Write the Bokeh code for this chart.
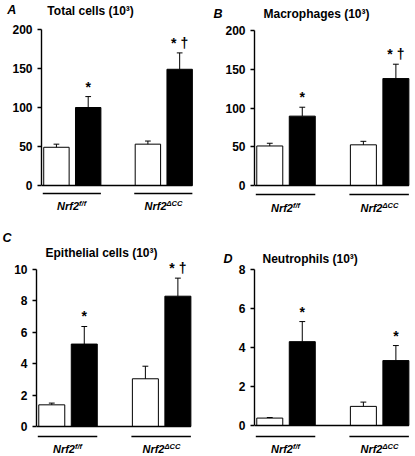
from bokeh.plotting import figure
from bokeh.layouts import column, row
from bokeh.models import Range1d, FixedTicker, Label, ColumnDataSource
from bokeh.core.properties import value
from bokeh.embed import file_html
from bokeh.resources import INLINE

# ---------------- data ----------------
panel_letters = ["A", "B", "C", "D"]
panel_titles = ["Total cells (10³)", "Macrophages (10³)",
                "Epithelial cells (10³)", "Neutrophils (10³)"]
genotype_names = ["Nrf2", "Nrf2"]
genotype_sups = ["f/f", "ΔCC"]
bar_colors = ["white", "black"]          # open bar / filled bar within each genotype

# order of bars: Nrf2f/f open, Nrf2f/f filled, Nrf2ΔCC open, Nrf2ΔCC filled
total_mean = [49, 100, 53, 149]
total_sem = [4, 14, 4, 21]
macro_mean = [51, 89.5, 52.5, 138]
macro_sem = [3.5, 11.5, 4.5, 18.5]
epi_mean = [1.38, 5.25, 3.04, 8.3]
epi_sem = [0.11, 1.12, 0.8, 1.15]
neut_mean = [0.38, 4.3, 0.98, 3.33]
neut_sem = [0.03, 1.03, 0.22, 0.77]

total_marks = ["", "*", "", "* †"]
macro_marks = ["", "*", "", "* †"]
epi_marks = ["", "*", "", "* †"]
neut_marks = ["", "*", "", "*"]

total_ticks = [0, 50, 100, 150, 200]
macro_ticks = [0, 50, 100, 150, 200]
epi_ticks = [0, 2, 4, 6, 8, 10]
neut_ticks = [0, 2, 4, 6, 8]

# ---------------- layout / style ----------------
FONT = "Liberation Sans"
FONT_V = value(FONT)
H = 228
UPX = 32.5          # pixels per bar slot
GROUP_STEP = 2.88   # slots between genotype groups
BAR_W = 0.8
X0 = -0.47


def make_panel(letter, title, means, sems, marks, ticks, lay):
    width, left = lay["width"], lay["left"]
    zero_px, top_px = lay["zero"], lay["top"]
    ymax = ticks[-1]
    ppu = (zero_px - top_px) / ymax
    y_start = -(H - zero_px) / ppu
    y_end = zero_px / ppu
    x_end = X0 + (width - left) / UPX

    def ydata(px):
        return (zero_px - px) / ppu

    p = figure(width=width, height=H, x_range=Range1d(X0, x_end),
               y_range=Range1d(y_start, y_end), x_axis_location=None,
               y_axis_location="left", toolbar_location=None,
               output_backend="svg", min_border_left=left, min_border_right=0,
               min_border_top=0, min_border_bottom=0,
               outline_line_color=None, background_fill_color="white",
               border_fill_color="white")
    p.grid.visible = False

    ax = p.yaxis[0]
    ax.ticker = FixedTicker(ticks=ticks)
    ax.bounds = (0, ymax)
    ax.axis_line_width = 1.4
    ax.axis_line_color = "black"
    ax.major_tick_line_width = 1.4
    ax.major_tick_out = 4
    ax.major_tick_in = 0
    ax.minor_tick_out = 0
    ax.minor_tick_in = 0
    ax.major_label_standoff = 5
    ax.major_label_text_font = FONT
    ax.major_label_text_font_style = "bold"
    ax.major_label_text_font_size = "12px"
    ax.major_label_text_color = "black"

    xs = [(i // 2) * GROUP_STEP + (i % 2) for i in range(len(means))]
    tops = [m + s for m, s in zip(means, sems)]
    src = ColumnDataSource(dict(
        x=xs, top=means, etop=tops,
        color=[bar_colors[i % 2] for i in range(len(means))],
        cx0=[x - 0.09 for x in xs], cx1=[x + 0.09 for x in xs],
        mark=marks, my=[t + 10 / ppu for t in tops]))

    p.vbar(x="x", top="top", bottom=0, width=BAR_W, fill_color="color",
           line_color="black", line_width=1, source=src)
    p.segment(x0="x", y0="top", x1="x", y1="etop", line_color="black",
              line_width=1, source=src)
    p.segment(x0="cx0", y0="etop", x1="cx1", y1="etop", line_color="black",
              line_width=1, source=src)
    p.text(x="x", y="my", text="mark", source=src, text_align="center",
           text_baseline="middle", text_font=FONT_V, text_font_style="bold",
           text_font_size="14px", text_color="black")

    # baseline (x axis line)
    p.segment(x0=[X0], y0=[0], x1=[xs[-1] + BAR_W / 2], y1=[0],
              line_color="black", line_width=1.4)

    # genotype underlines and labels
    ul_y = ydata(lay["ul"])
    lab_y = ydata(lay["lab"])
    sup_y = ydata(lay["lab"] - 2.5)
    sup_w = [7.1, 15.4]
    gx0, gx1, jx = [], [], []
    for g in range(2):
        a = xs[2 * g] - BAR_W / 2 - 0.03
        b = xs[2 * g + 1] + BAR_W / 2
        gx0.append(a)
        gx1.append(b)
        c = (a + b) / 2
        jx.append(c + (22 - sup_w[g]) / 2 / UPX)
    p.segment(x0=gx0, y0=[ul_y] * 2, x1=gx1, y1=[ul_y] * 2,
              line_color="black", line_width=1.4)
    p.text(x=jx, y=[lab_y] * 2, text=genotype_names, text_align="right",
           text_baseline="middle", text_font=FONT_V,
           text_font_style="bold italic", text_font_size="11px",
           text_color="black")
    p.text(x=jx, y=[sup_y] * 2, text=genotype_sups, text_align="left",
           text_baseline="middle", text_font=FONT_V,
           text_font_style="bold italic", text_font_size="7.5px",
           text_color="black")

    # title
    p.text(x=[X0 + lay["tdx"] / UPX], y=[ydata(lay["ty"])], text=[title],
           text_align="left", text_baseline="middle", text_font=FONT_V,
           text_font_style="bold", text_font_size="12px", text_color="black")

    # panel letter, placed in the left side panel
    p.add_layout(Label(x=X0 - (left - lay["lx"]) / UPX, y=ydata(lay["ly"]),
                       text=letter, text_align="left", text_baseline="middle",
                       text_font=FONT, text_font_style="bold italic",
                       text_font_size="12.5px", text_color="black"), "left")
    return p


layA = dict(width=213, left=37, zero=185, top=29, ty=10, tdx=6, lx=2, ly=9,
            ul=193, lab=205)
layB = dict(width=202, left=41, zero=185, top=30, ty=13, tdx=9, lx=0, ly=13,
            ul=194, lab=207)
layC = dict(width=213, left=36, zero=198, top=41, ty=24, tdx=9, lx=2, ly=9,
            ul=208, lab=220)
layD = dict(width=202, left=41, zero=197, top=41, ty=30, tdx=8, lx=10, ly=30,
            ul=208, lab=220)

pA = make_panel(panel_letters[0], panel_titles[0], total_mean, total_sem,
                total_marks, total_ticks, layA)
pB = make_panel(panel_letters[1], panel_titles[1], macro_mean, macro_sem,
                macro_marks, macro_ticks, layB)
pC = make_panel(panel_letters[2], panel_titles[2], epi_mean, epi_sem,
                epi_marks, epi_ticks, layC)
pD = make_panel(panel_letters[3], panel_titles[3], neut_mean, neut_sem,
                neut_marks, neut_ticks, layD)

layout = column(row(pA, pB), row(pC, pD))
open("out.html", "w").write(file_html(layout, INLINE))
